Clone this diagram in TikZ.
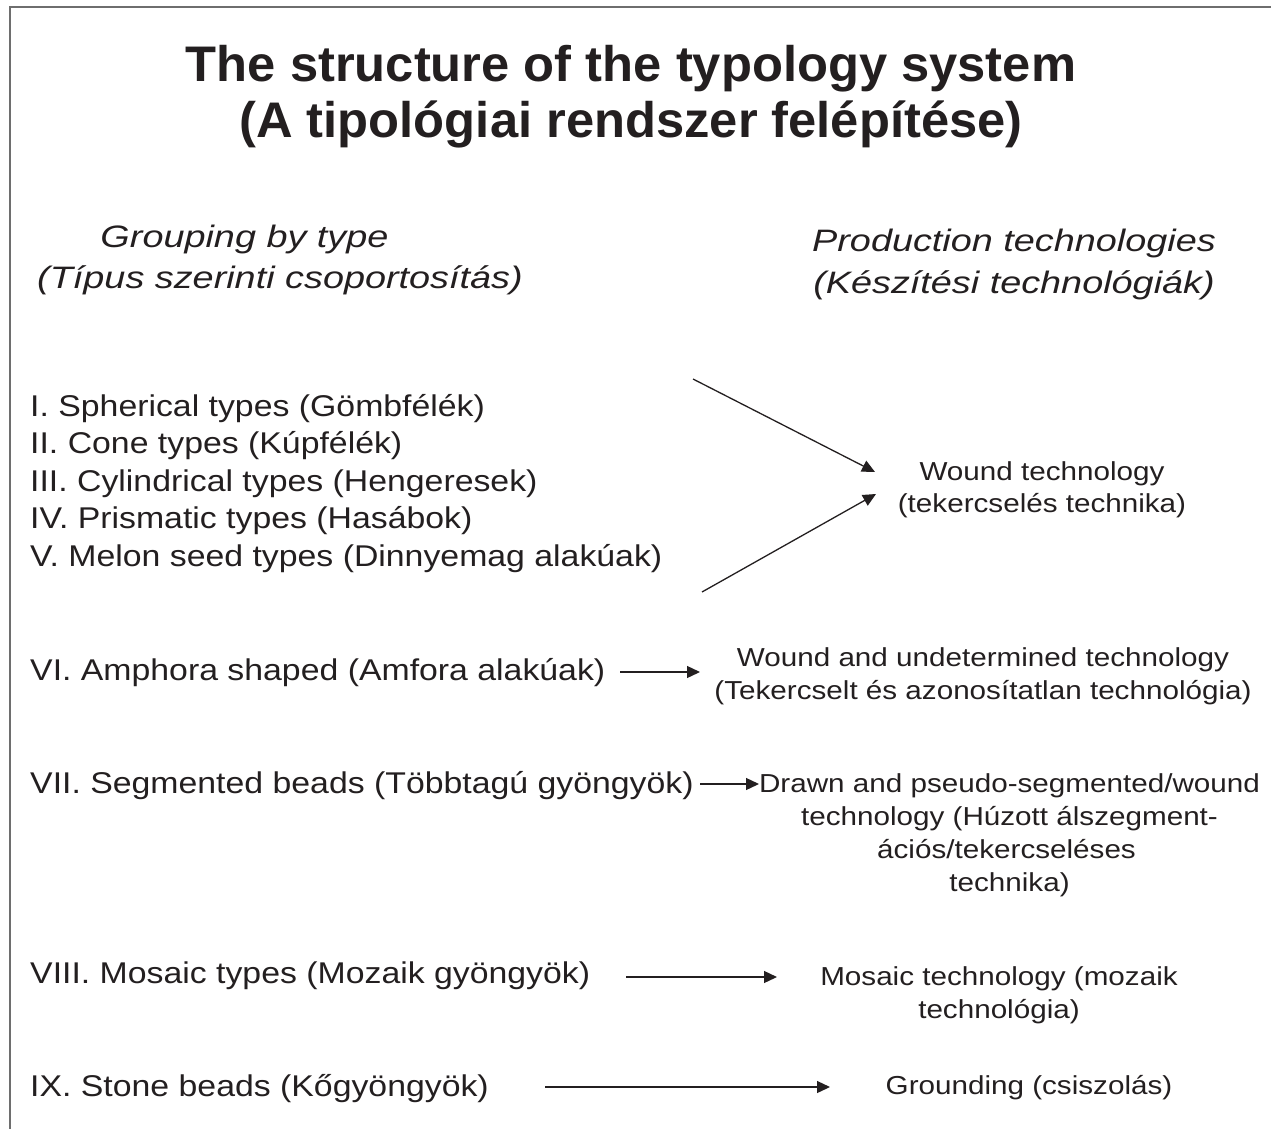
\documentclass[tikz,border=0pt]{standalone}
\usepackage{fontspec}
\setmainfont{Liberation Sans}
\newfontfamily\titlefont[FakeStretch=1.014]{Liberation Sans}
\newfontfamily\headfont[FakeStretch=1.22]{Liberation Sans}
\newfontfamily\typfont[FakeStretch=1.127]{Liberation Sans}
\newfontfamily\techfont[FakeStretch=1.14]{Liberation Sans}
\usetikzlibrary{arrows.meta}
\definecolor{ink}{RGB}{35,31,32}
\definecolor{frame}{RGB}{110,110,110}
\tikzset{
  title/.style={font=\titlefont\fontsize{50}{56}\selectfont\bfseries, text=ink, anchor=base, inner sep=0pt},
  head/.style={font=\headfont\fontsize{31}{41}\selectfont\itshape, text=ink, anchor=base, inner sep=0pt},
  typ/.style={font=\typfont\fontsize{30}{37.5}\selectfont, text=ink, anchor=base west, inner sep=0pt},
  tech/.style={font=\techfont\fontsize{26}{33}\selectfont, text=ink, anchor=base, inner sep=0pt},
  conn/.style={draw=ink, line width=1.3pt, -{Triangle[length=13pt,width=12pt]}},
}
\begin{document}
\begin{tikzpicture}[x=1pt,y=-1pt]
\useasboundingbox (0,0) rectangle (1271,1129);
\draw[frame, line width=1.5pt] (10,1135) -- (10,7) -- (1280,7);

% title
\node[title] (t1) at (631,82) {The structure of the typology system};
\node[title] (t2) at (631,138) {(A tipológiai rendszer felépítése)};

% headings
\node[head] (h1) at (244.5,247) {Grouping by type};
\node[head] (h2) at (280,288) {(Típus szerinti csoportosítás)};
\node[head] (h3) at (1014,251) {Production technologies};
\node[head] (h4) at (1014,293) {(Készítési technológiák)};

% types
\node[typ] (i1) at (30,416) {I. Spherical types (Gömbfélék)};
\node[typ] (i2) at (30,453.5) {II. Cone types (Kúpfélék)};
\node[typ] (i3) at (30,491) {III. Cylindrical types (Hengeresek)};
\node[typ] (i4) at (30,528.5) {IV. Prismatic types (Hasábok)};
\node[typ] (i5) at (30,566) {V. Melon seed types (Dinnyemag alakúak)};
\node[typ] (i6) at (30,680) {VI. Amphora shaped (Amfora alakúak)};
\node[typ] (i7) at (30,793) {VII. Segmented beads (Többtagú gyöngyök)};
\node[typ] (i8) at (30,983) {VIII. Mosaic types (Mozaik gyöngyök)};
\node[typ] (i9) at (30,1096) {IX. Stone beads (Kőgyöngyök)};

% technologies
\node[tech] (w1) at (1042,480) {Wound technology};
\node[tech] (w2) at (1042,512) {(tekercselés technika)};
\node[tech] (u1) at (983,666) {Wound and undetermined technology};
\node[tech] (u2) at (983,699) {(Tekercselt és azonosítatlan technológia)};
\node[tech] (d1) at (1009.5,792) {Drawn and pseudo-segmented/wound};
\node[tech] (d2) at (1009.5,825) {technology (Húzott álszegment-};
\node[tech] (d3) at (1006.5,858) {ációs/tekercseléses};
\node[tech] (d4) at (1009.5,891) {technika)};
\node[tech] (m1) at (999,985) {Mosaic technology (mozaik};
\node[tech] (m2) at (999,1018) {technológia)};
\node[tech] (g1) at (1029,1094) {Grounding (csiszolás)};

% connector end points
\coordinate (a1s) at (693,379);
\coordinate (a1e) at (875,472);
\coordinate (a2s) at (702,592);
\coordinate (a2e) at (876,494);
\coordinate (a6s) at (620,672);
\coordinate (a6e) at (700,672);
\coordinate (a7s) at (700,784);
\coordinate (a7e) at (759,784);
\coordinate (a8s) at (626,977);
\coordinate (a8e) at (777,977);
\coordinate (a9s) at (545,1087);
\coordinate (a9e) at (830,1087);

\draw[conn] (a1s) -- (a1e);
\draw[conn] (a2s) -- (a2e);
\draw[conn] (a6s) -- (a6e);
\draw[conn] (a7s) -- (a7e);
\draw[conn] (a8s) -- (a8e);
\draw[conn] (a9s) -- (a9e);
\end{tikzpicture}
\end{document}
